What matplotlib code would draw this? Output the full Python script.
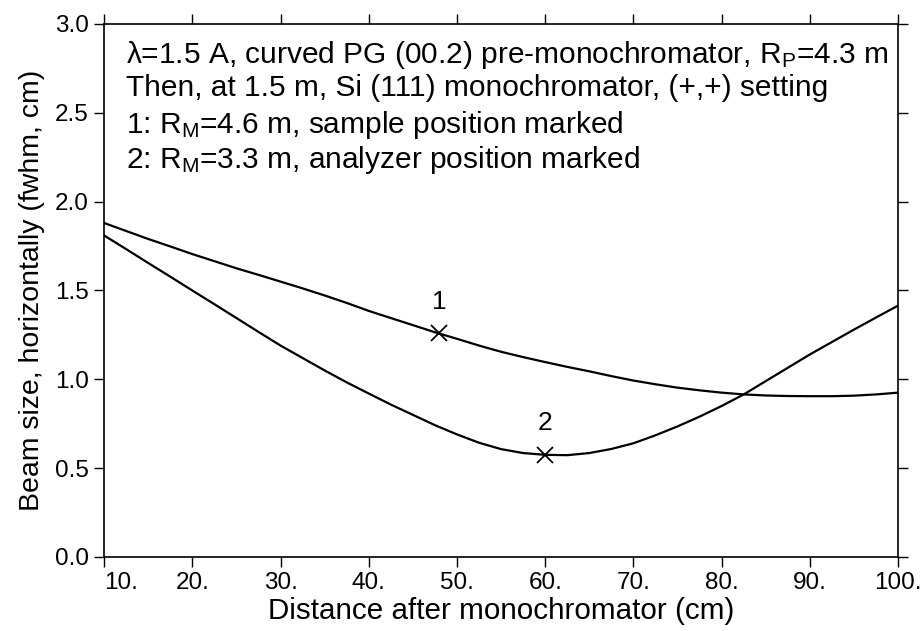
import numpy as np
import matplotlib
matplotlib.use('Agg')
import matplotlib.pyplot as plt

plt.rcParams['font.family'] = ['Liberation Sans', 'DejaVu Sans']
plt.rcParams['mathtext.fontset'] = 'custom'
plt.rcParams['mathtext.rm'] = 'Liberation Sans'

# beam size (fwhm, cm)
dist = [10, 12.5, 15, 17.5, 20, 22.5, 25, 27.5, 30, 32.5, 35, 37.5, 40, 42.5, 45,
        47.5, 50, 52.5, 55, 57.5, 60, 62.5, 65, 67.5, 70, 72.5, 75, 77.5, 80,
        82.5, 85, 87.5, 90, 92.5, 95, 97.5, 100]
size_1 = [1.88, 1.835, 1.79, 1.748, 1.705, 1.665, 1.625, 1.588, 1.55, 1.512, 1.472,
          1.43, 1.385, 1.345, 1.305, 1.265, 1.228, 1.19, 1.155, 1.125, 1.097, 1.07,
          1.045, 1.018, 0.993, 0.972, 0.953, 0.938, 0.925, 0.915, 0.909, 0.906,
          0.905, 0.905, 0.908, 0.915, 0.925]
size_2 = [1.81, 1.733, 1.655, 1.578, 1.50, 1.423, 1.345, 1.267, 1.19, 1.12, 1.05,
          0.983, 0.92, 0.858, 0.80, 0.742, 0.69, 0.643, 0.607, 0.585, 0.575, 0.573,
          0.585, 0.608, 0.64, 0.685, 0.735, 0.79, 0.85, 0.915, 0.99, 1.065, 1.14,
          1.21, 1.28, 1.348, 1.415]
marks_x = [48, 60]
marks_y = [1.26, 0.575]
marks_lab = ['1', '2']

xticks = [10, 20, 30, 40, 50, 60, 70, 80, 90, 100]
yticks = [0.0, 0.5, 1.0, 1.5, 2.0, 2.5, 3.0]

notes = [r'$\mathregular{\lambda}$=1.5 A, curved PG (00.2) pre-monochromator, $\mathregular{R_{P}}$=4.3 m',
         'Then, at 1.5 m, Si (111) monochromator, (+,+) setting',
         r'1: $\mathregular{R_{M}}$=4.6 m, sample position marked',
         r'2: $\mathregular{R_{M}}$=3.3 m, analyzer position marked']

fig = plt.figure(figsize=(9.24, 6.31), dpi=100)
ax = fig.add_axes([0.1126, 0.1173, 0.8594, 0.8447])

ax.plot(dist, size_1, color='black', lw=1.6)
ax.plot(dist, size_2, color='black', lw=1.6)
ax.plot(marks_x, marks_y, 'x', color='black', ms=12, mew=1.3)
for mx, my, ml in zip(marks_x, marks_y, marks_lab):
    ax.text(mx, my + 0.11, ml, ha='center', va='bottom', fontsize=19)

ax.set_xlim(10, 100)
ax.set_ylim(0, 3.0)
ax.set_xticks(xticks)
ax.set_xticklabels(['%d.' % v for v in xticks])
ax.set_yticks(yticks)
ax.set_yticklabels(['%.1f' % v for v in yticks])
ax.get_xticklabels()[0].set_horizontalalignment('left')
ax.tick_params(direction='out', length=7, width=1, labelsize=17.5,
               top=True, right=True, pad=4)
for s in ax.spines.values():
    s.set_linewidth(1.2)

ax.set_xlabel('Distance after monochromator (cm)', fontsize=21.3, labelpad=2)
ax.set_ylabel('Beam size, horizontally (fwhm, cm)', fontsize=20.5, labelpad=7)

for i, t in enumerate(notes):
    ax.text(0.028, 0.972 - i * 0.066, t, transform=ax.transAxes,
            fontsize=21.5, va='top', ha='left')

fig.savefig('out.png', dpi=100)
